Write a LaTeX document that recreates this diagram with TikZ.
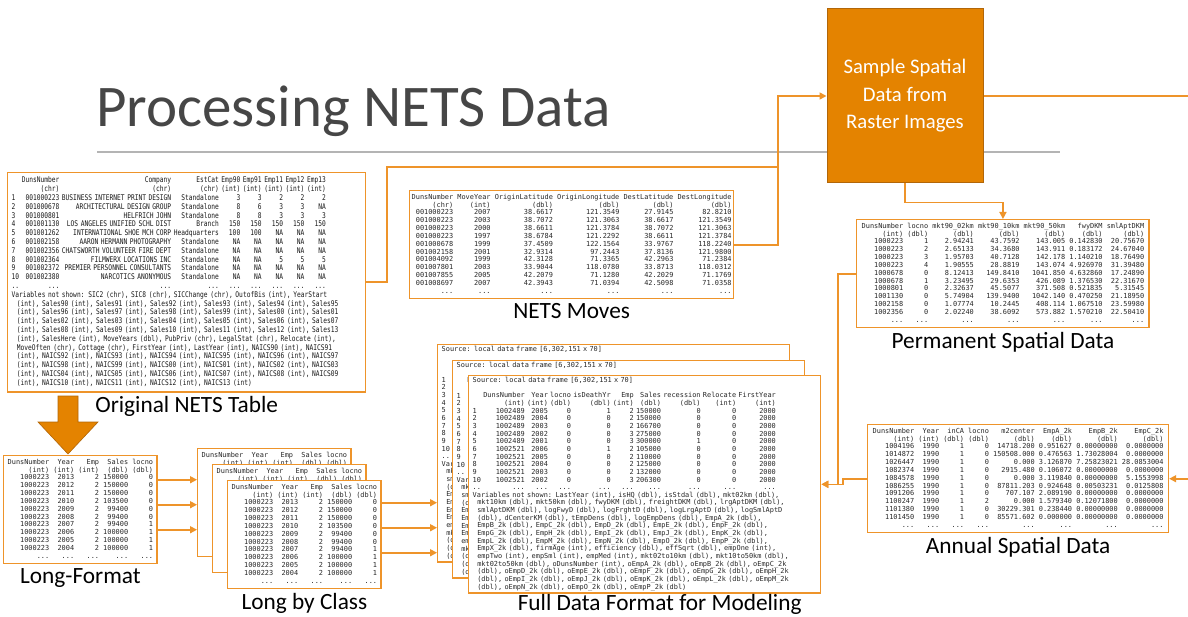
\documentclass[tikz,border=0pt]{standalone}
\usepackage{fontspec}
\usepackage{xcolor}
\usepackage{array}
\usetikzlibrary{arrows.meta,positioning,calc}

\setmainfont{Carlito}
\newfontfamily\tabfont{DejaVu Sans Mono}
\newfontfamily\rawfont[FakeStretch=0.8]{DejaVu Sans Mono}

\definecolor{boxfill}{RGB}{228,131,0}
\definecolor{boxedge}{RGB}{178,102,8}
\definecolor{wirec}{RGB}{238,148,42}
\definecolor{titlegray}{RGB}{70,70,70}
\definecolor{rulegray}{RGB}{180,180,180}
\definecolor{ink}{RGB}{40,40,40}

% a free text line inside a printed table (does not widen the columns)
\newcommand{\freeln}[2]{\multicolumn{#1}{@{}l@{}}{\rlap{#2}}}

% raw NETS extract
\newcommand{\origTab}{%
\begin{tabular}{@{}l*{8}{@{\ }r}@{}}
 & DunsNumber & Company & EstCat & Emp90 & Emp91 & Emp11 & Emp12 & Emp13\\
 & (chr) & (chr) & (chr) & (int) & (int) & (int) & (int) & (int)\\
1 & 001000223 & BUSINESS INTERNET PRINT DESIGN & Standalone & 3 & 3 & 2 & 2 & 2\\
2 & 001000678 & ARCHITECTURAL DESIGN GROUP & Standalone & 8 & 6 & 3 & 3 & NA\\
3 & 001000801 & HELFRICH JOHN & Standalone & 8 & 8 & 3 & 3 & 3\\
4 & 001001130 & LOS ANGELES UNIFIED SCHL DIST & Branch & 150 & 150 & 150 & 150 & 150\\
5 & 001001262 & INTERNATIONAL SHOE MCH CORP & Headquarters & 100 & 100 & NA & NA & NA\\
6 & 001002158 & AARON HERMANN PHOTOGRAPHY & Standalone & NA & NA & NA & NA & NA\\
7 & 001002356 & CHATSWORTH VOLUNTEER FIRE DEPT & Standalone & NA & NA & NA & NA & NA\\
8 & 001002364 & FILMWERX LOCATIONS INC & Standalone & NA & NA & 5 & 5 & 5\\
9 & 001002372 & PREMIER PERSONNEL CONSULTANTS & Standalone & NA & NA & NA & NA & NA\\
10 & 001002380 & NARCOTICS ANONYMOUS & Standalone & NA & NA & NA & NA & NA\\
.. & ... & ... & ... & ... & ... & ... & ... & ...\\
\freeln{9}{Variables not shown: SIC2 (chr), SIC8 (chr), SICChange (chr), OutofBis (int), YearStart}\\
\freeln{9}{\ \ (int), Sales90 (int), Sales91 (int), Sales92 (int), Sales93 (int), Sales94 (int), Sales95}\\
\freeln{9}{\ \ (int), Sales96 (int), Sales97 (int), Sales98 (int), Sales99 (int), Sales00 (int), Sales01}\\
\freeln{9}{\ \ (int), Sales02 (int), Sales03 (int), Sales04 (int), Sales05 (int), Sales06 (int), Sales07}\\
\freeln{9}{\ \ (int), Sales08 (int), Sales09 (int), Sales10 (int), Sales11 (int), Sales12 (int), Sales13}\\
\freeln{9}{\ \ (int), SalesHere (int), MoveYears (dbl), PubPriv (chr), LegalStat (chr), Relocate (int),}\\
\freeln{9}{\ \ MoveOften (chr), Cottage (chr), FirstYear (int), LastYear (int), NAICS90 (int), NAICS91}\\
\freeln{9}{\ \ (int), NAICS92 (int), NAICS93 (int), NAICS94 (int), NAICS95 (int), NAICS96 (int), NAICS97}\\
\freeln{9}{\ \ (int), NAICS98 (int), NAICS99 (int), NAICS00 (int), NAICS01 (int), NAICS02 (int), NAICS03}\\
\freeln{9}{\ \ (int), NAICS04 (int), NAICS05 (int), NAICS06 (int), NAICS07 (int), NAICS08 (int), NAICS09}\\
\freeln{9}{\ \ (int), NAICS10 (int), NAICS11 (int), NAICS12 (int), NAICS13 (int)}
\end{tabular}}

% relocation records
\newcommand{\movesTab}{%
\begin{tabular}{@{}r*{5}{@{\ }r}@{}}
DunsNumber & MoveYear & OriginLatitude & OriginLongitude & DestLatitude & DestLongitude\\
(chr) & (int) & (dbl) & (dbl) & (dbl) & (dbl)\\
001000223 & 2007 & 38.6617 & 121.3549 & 27.9145 & 82.8210\\
001000223 & 2003 & 38.7072 & 121.3063 & 38.6617 & 121.3549\\
001000223 & 2000 & 38.6611 & 121.3784 & 38.7072 & 121.3063\\
001000223 & 1997 & 38.6784 & 121.2292 & 38.6611 & 121.3784\\
001000678 & 1999 & 37.4509 & 122.1564 & 33.9767 & 118.2240\\
001002158 & 2001 & 32.9314 & 97.2443 & 37.8136 & 121.9800\\
001004092 & 1999 & 42.3128 & 71.3365 & 42.2963 & 71.2384\\
001007801 & 2003 & 33.9044 & 118.0780 & 33.8713 & 118.0312\\
001007855 & 2005 & 42.2079 & 71.1280 & 42.2029 & 71.1769\\
001008697 & 2007 & 42.3943 & 71.0394 & 42.5098 & 71.0358\\
... & ... & ... & ... & ... & ...
\end{tabular}}

% one row per firm and year
\newcommand{\longTab}{%
\begin{tabular}{@{}r*{4}{@{\ }r}@{}}
DunsNumber & Year & Emp & Sales & locno\\
(int) & (int) & (int) & (dbl) & (dbl)\\
1000223 & 2013 & 2 & 150000 & 0\\
1000223 & 2012 & 2 & 150000 & 0\\
1000223 & 2011 & 2 & 150000 & 0\\
1000223 & 2010 & 2 & 103500 & 0\\
1000223 & 2009 & 2 & 99400 & 0\\
1000223 & 2008 & 2 & 99400 & 0\\
1000223 & 2007 & 2 & 99400 & 1\\
1000223 & 2006 & 2 & 100000 & 1\\
1000223 & 2005 & 2 & 100000 & 1\\
1000223 & 2004 & 2 & 100000 & 1\\
... & ... & ... & ... & ...
\end{tabular}}

% site attributes that do not change
\newcommand{\permTab}{%
\begin{tabular}{@{}r*{6}{@{\ }r}@{}}
DunsNumber & locno & mkt90\_02km & mkt90\_10km & mkt90\_50km & fwyDKM & smlAptDKM\\
(int) & (dbl) & (dbl) & (dbl) & (dbl) & (dbl) & (dbl)\\
1000223 & 1 & 2.94241 & 43.7592 & 143.005 & 0.142830 & 20.75670\\
1000223 & 2 & 2.65133 & 34.3680 & 143.911 & 0.183172 & 24.67040\\
1000223 & 3 & 1.95703 & 40.7128 & 142.178 & 1.140210 & 18.76490\\
1000223 & 4 & 1.90555 & 28.8819 & 143.074 & 4.926970 & 31.39480\\
1000678 & 0 & 8.12413 & 149.8410 & 1041.850 & 4.632860 & 17.24890\\
1000678 & 1 & 3.23495 & 29.6353 & 426.089 & 1.376530 & 22.31670\\
1000801 & 0 & 2.32637 & 45.5077 & 371.508 & 0.521835 & 5.31545\\
1001130 & 0 & 5.74904 & 139.9400 & 1042.140 & 0.470250 & 21.18950\\
1002158 & 0 & 1.07774 & 10.2445 & 408.114 & 1.067510 & 23.59980\\
1002356 & 0 & 2.02240 & 38.6092 & 573.882 & 1.570210 & 22.50410\\
... & ... & ... & ... & ... & ... & ...
\end{tabular}}

% site attributes by year
\newcommand{\annualTab}{%
\begin{tabular}{@{}r*{7}{@{\ }r}@{}}
DunsNumber & Year & inCA & locno & m2center & EmpA\_2k & EmpB\_2k & EmpC\_2k\\
(int) & (int) & (dbl) & (dbl) & (dbl) & (dbl) & (dbl) & (dbl)\\
1004196 & 1990 & 1 & 0 & 14718.200 & 0.951627 & 0.00000000 & 0.0000000\\
1014872 & 1990 & 1 & 0 & 150508.000 & 0.476563 & 1.73028004 & 0.0000000\\
1026447 & 1990 & 1 & 0 & 0.000 & 3.126870 & 7.25823021 & 28.0853004\\
1082374 & 1990 & 1 & 0 & 2915.480 & 0.106072 & 0.00000000 & 0.0000000\\
1084578 & 1990 & 1 & 0 & 0.000 & 3.119840 & 0.00000000 & 5.1553998\\
1086255 & 1990 & 1 & 0 & 87811.203 & 0.924648 & 0.00503231 & 0.0125808\\
1091206 & 1990 & 1 & 0 & 707.107 & 2.089190 & 0.00000000 & 0.0000000\\
1100247 & 1990 & 1 & 2 & 0.000 & 1.579340 & 0.12071800 & 0.0000000\\
1101380 & 1990 & 1 & 0 & 30229.301 & 0.238440 & 0.00000000 & 0.0000000\\
1101450 & 1990 & 1 & 0 & 85571.602 & 0.000000 & 0.00000000 & 0.0000000\\
... & ... & ... & ... & ... & ... & ... & ...
\end{tabular}}

% joined modelling frame
\newcommand{\fullTab}{%
\begin{tabular}{@{}l*{9}{@{\ }r}@{}}
\freeln{10}{Source: local data frame [6,302,151 x 70]}\\
\freeln{10}{}\\
 & DunsNumber & Year & locno & isDeathYr & Emp & Sales & recession & Relocate & FirstYear\\
 & (int) & (int) & (dbl) & (dbl) & (int) & (dbl) & (dbl) & (int) & (int)\\
1 & 1002489 & 2005 & 0 & 1 & 2 & 150000 & 0 & 0 & 2000\\
2 & 1002489 & 2004 & 0 & 0 & 2 & 150000 & 0 & 0 & 2000\\
3 & 1002489 & 2003 & 0 & 0 & 2 & 166700 & 0 & 0 & 2000\\
4 & 1002489 & 2002 & 0 & 0 & 3 & 275000 & 0 & 0 & 2000\\
5 & 1002489 & 2001 & 0 & 0 & 3 & 300000 & 1 & 0 & 2000\\
6 & 1002521 & 2006 & 0 & 1 & 2 & 105000 & 0 & 0 & 2000\\
7 & 1002521 & 2005 & 0 & 0 & 2 & 110000 & 0 & 0 & 2000\\
8 & 1002521 & 2004 & 0 & 0 & 2 & 125000 & 0 & 0 & 2000\\
9 & 1002521 & 2003 & 0 & 0 & 2 & 132000 & 0 & 0 & 2000\\
10 & 1002521 & 2002 & 0 & 0 & 3 & 206300 & 0 & 0 & 2000\\
.. & ... & ... & ... & ... & ... & ... & ... & ... & ...\\
\freeln{10}{Variables not shown: LastYear (int), isHQ (dbl), isStdal (dbl), mkt02km (dbl),}\\
\freeln{10}{\ \ mkt10km (dbl), mkt50km (dbl), fwyDKM (dbl), freightDKM (dbl), lrgAptDKM (dbl),}\\
\freeln{10}{\ \ smlAptDKM (dbl), logFwyD (dbl), logFrghtD (dbl), logLrgAptD (dbl), logSmlAptD}\\
\freeln{10}{\ \ (dbl), dCenterKM (dbl), tEmpDens (dbl), logEmpDens (dbl), EmpA\_2k (dbl),}\\
\freeln{10}{\ \ EmpB\_2k (dbl), EmpC\_2k (dbl), EmpD\_2k (dbl), EmpE\_2k (dbl), EmpF\_2k (dbl),}\\
\freeln{10}{\ \ EmpG\_2k (dbl), EmpH\_2k (dbl), EmpI\_2k (dbl), EmpJ\_2k (dbl), EmpK\_2k (dbl),}\\
\freeln{10}{\ \ EmpL\_2k (dbl), EmpM\_2k (dbl), EmpN\_2k (dbl), EmpO\_2k (dbl), EmpP\_2k (dbl),}\\
\freeln{10}{\ \ EmpX\_2k (dbl), firmAge (int), efficiency (dbl), effSqrt (dbl), empOne (int),}\\
\freeln{10}{\ \ empTwo (int), empSml (int), empMed (int), mkt02to10km (dbl), mkt10to50km (dbl),}\\
\freeln{10}{\ \ mkt02to50km (dbl), oDunsNumber (int), oEmpA\_2k (dbl), oEmpB\_2k (dbl), oEmpC\_2k}\\
\freeln{10}{\ \ (dbl), oEmpD\_2k (dbl), oEmpE\_2k (dbl), oEmpF\_2k (dbl), oEmpG\_2k (dbl), oEmpH\_2k}\\
\freeln{10}{\ \ (dbl), oEmpI\_2k (dbl), oEmpJ\_2k (dbl), oEmpK\_2k (dbl), oEmpL\_2k (dbl), oEmpM\_2k}\\
\freeln{10}{\ \ (dbl), oEmpN\_2k (dbl), oEmpO\_2k (dbl), oEmpP\_2k (dbl)}
\end{tabular}}

\tikzset{
  datatab/.style={draw=wirec, line width=1.4pt, fill=white, anchor=north west,
    inner xsep=4pt, inner ysep=3pt, text=ink,
    font=\tabfont\fontsize{6.9}{7.85}\selectfont},
  fulltab/.style={datatab, text width=344pt, align=left, inner ysep=1.5pt,
    font=\tabfont\fontsize{6.9}{7.65}\selectfont},
  tablabel/.style={inner sep=0pt, font=\fontsize{23.3}{26}\selectfont},
  wire/.style={draw=wirec, line width=1.6pt},
  link/.style={wire, -{Triangle[length=7pt,width=7pt]}},
}

\begin{document}
\begin{tikzpicture}[x=1pt,y=-1pt]
\useasboundingbox (0,0) rectangle (1188,617);
\fill[white] (0,0) rectangle (1188,617);

% slide heading
\node[anchor=base west, inner sep=0pt, text=titlegray,
  font=\fontsize{59}{59}\selectfont] (title) at (96,127) {Processing NETS Data};
\draw[rulegray, line width=1.3pt] (97,152) -- (1060,152);

% raster sampling step
\node[fill=boxfill, draw=boxedge, line width=1pt, minimum width=156pt,
  minimum height=174pt, text=white, align=center,
  font=\fontsize{20.7}{27.5}\selectfont] (sample) at (905,96)
  {Sample Spatial\\Data from\\Raster Images};

% source tables
\node[datatab, text width=350pt, align=left, inner ysep=4pt, text=black!90,
  font=\rawfont\fontsize{7.8}{8.8}\selectfont] (orig) at (7,172) {\origTab};
\node[tablabel, below=4pt of orig] (origcap) {Original NETS Table};

\node[datatab, inner xsep=2pt] (moves) at (409,190) {\movesTab};
\node[tablabel, below=4pt of moves] (movescap) {NETS Moves};

% spatial tables
\node[datatab, inner xsep=5pt] (perm) at (856,219) {\permTab};
\node[tablabel, below=4pt of perm] (permcap) {Permanent Spatial Data};

\node[datatab, inner xsep=5pt] (annual) at (867,424) {\annualTab};
\node[tablabel, below=4pt of annual] (annualcap) {Annual Spatial Data};

% reshaping chain
\node[datatab] (longfmt) at (3,455) {\longTab};
\node[tablabel, below=4pt of longfmt] (longcap) {Long-Format};

\node[datatab] (classA) at (197,448) {\longTab};
\node[datatab] (classB) at (212,464) {\longTab};
\node[datatab] (classC) at (227,480) {\longTab};
\node[tablabel, below=4pt of classC] (classcap) {Long by Class};

\node[fulltab] (fullA) at (437,344) {\fullTab};
\node[fulltab] (fullB) at (452,360) {\fullTab};
\node[fulltab] (fullC) at (468,375) {\fullTab};
\node[tablabel, below=1pt of fullC, xshift=15pt] (fullcap) {Full Data Format for Modeling};

% block arrow: wide to long
\filldraw[fill=boxfill, draw=boxedge, line width=0.6pt]
  (58,396) -- (78,396) -- (78,422) -- (98,422) -- (68,454) -- (38,422) -- (58,422) -- cycle;

% connectors
\coordinate (origbend) at (387,167);
\coordinate (hub) at (778,167);
\coordinate (offright) at (1188,0);

\draw[wire] (orig.east) -| (origbend) -- (hub);
\draw[link] (moves.east) -| (hub |- sample.west) -- (sample.west);
\draw[link] (sample.south) -- ++(0,19) -| (perm.north);
\draw[wire] (sample.east) -- (sample.east -| offright);
\draw[link] (annual.east -| offright) -- (annual.east);
\draw[link] (perm.west) -- ++(-18,0) |- (fullC.east);
\draw[link] (annual.west) -- ++(-24,0) |- (fullC.east);

\draw[link] ([yshift=30pt]longfmt.east) -- ([yshift=30pt]longfmt.east -| classA.west);
\draw[link] ([yshift=5pt]longfmt.east) -- ([yshift=5pt]longfmt.east -| classA.west);
\draw[link] ([yshift=-20pt]longfmt.east) -- ([yshift=-20pt]longfmt.east -| classA.west);

\draw[link] ([yshift=32pt]classC.east) -- ([yshift=32pt]classC.east -| fullA.west);
\draw[link] ([yshift=7pt]classC.east) -- ([yshift=7pt]classC.east -| fullA.west);
\draw[link] ([yshift=-18pt]classC.east) -- ([yshift=-18pt]classC.east -| fullA.west);
\end{tikzpicture}
\end{document}
